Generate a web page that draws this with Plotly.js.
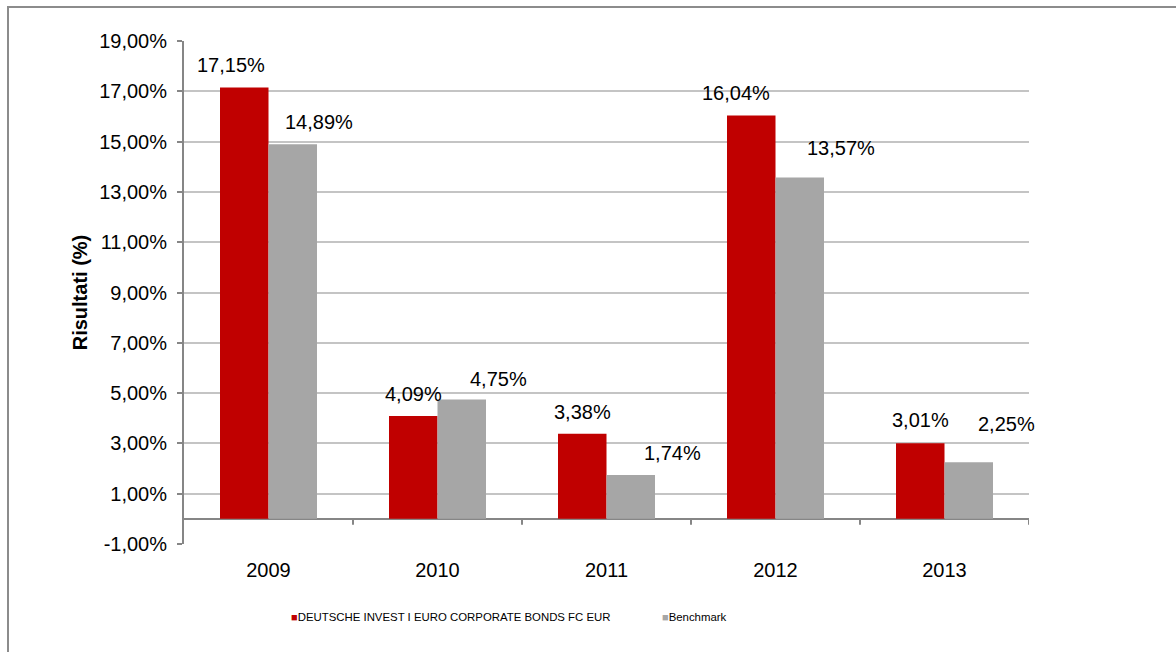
<!DOCTYPE html>
<html>
<head>
<meta charset="utf-8">
<script src="https://cdn.plot.ly/plotly-3.0.1.min.js"></script>
<style>
  html, body { margin: 0; padding: 0; background: #ffffff; }
  #wrap { position: relative; width: 1176px; height: 652px; overflow: hidden; }
  #chart { position: absolute; left: 0; top: 0; width: 1176px; height: 652px; }
  #frame { position: absolute; left: 7px; top: 6px; width: 1300px; height: 800px;
           border-left: 2px solid #8c8c8c; border-top: 2px solid #8c8c8c; pointer-events: none; }
</style>
</head>
<body>
<div id="wrap">
  <div id="chart"></div>
  <div id="frame"></div>
</div>
<script>
// ---- data ----
const years = ['2009', '2010', '2011', '2012', '2013'];
const fundName = 'DEUTSCHE INVEST I EURO CORPORATE BONDS FC EUR';
const fundValues = [17.15, 4.09, 3.38, 16.04, 3.01];
const benchName = 'Benchmark';
const benchValues = [14.89, 4.75, 1.74, 13.57, 2.25];
const yTickVals = [-1, 1, 3, 5, 7, 9, 11, 13, 15, 17, 19];
const yAxisTitle = 'Risultati (%)';

// ---- style ----
const fundColor = '#C00000';
const benchColor = '#A6A6A6';
const axisColor = '#868686';
const gridColor = '#C4C4C4';
const font = 'Liberation Sans, Arial, Helvetica, sans-serif';
// data-label offsets (pixels) relative to category centre / bar top
const fundLabelDx = [-37.5, -24.5, -24, -40, -24];
const fundLabelDy = [23, 22, 21.5, 22, 23];
const benchLabelDx = [50, 61, 66, 65.5, 62];
const benchLabelDy = [22, 20.5, 22, 30, 38];

function pct(v) { return v.toFixed(2).replace('.', ',') + '%'; }

const traces = [
  { type: 'bar', name: fundName, x: years, y: fundValues,
    marker: { color: fundColor }, hoverinfo: 'skip' },
  { type: 'bar', name: benchName, x: years, y: benchValues,
    marker: { color: benchColor }, hoverinfo: 'skip' }
];

const annotations = [];
years.forEach((yr, i) => {
  annotations.push({ x: i, y: fundValues[i], xref: 'x', yref: 'y', text: pct(fundValues[i]),
    showarrow: false, xanchor: 'center', yanchor: 'middle',
    xshift: fundLabelDx[i], yshift: fundLabelDy[i],
    font: { family: font, size: 20, color: '#000000' } });
  annotations.push({ x: i, y: benchValues[i], xref: 'x', yref: 'y', text: pct(benchValues[i]),
    showarrow: false, xanchor: 'center', yanchor: 'middle',
    xshift: benchLabelDx[i], yshift: benchLabelDy[i],
    font: { family: font, size: 20, color: '#000000' } });
});

// custom legend
const legendFont = { family: font, size: 11.4, color: '#000000' };
annotations.push({ xref: 'paper', yref: 'paper', x: (289 - 184) / 845, y: (544 - 617) / 503,
  xanchor: 'left', yanchor: 'middle', showarrow: false,
  text: '<span style="color:' + fundColor + ';font-size:11px">■</span>' + fundName, font: legendFont });
annotations.push({ xref: 'paper', yref: 'paper', x: (660 - 184) / 845, y: (544 - 617) / 503,
  xanchor: 'left', yanchor: 'middle', showarrow: false,
  text: '<span style="color:' + benchColor + ';font-size:11px">■</span>' + benchName, font: legendFont });

// tick marks on the zero line between categories
const shapes = [];
for (let k = 0; k < years.length; k++) {
  shapes.push({ type: 'line', xref: 'x', yref: 'y', x0: k + 0.5, x1: k + 0.5,
    ysizemode: 'pixel', yanchor: 0, y0: 0, y1: -6,
    line: { color: axisColor, width: 2 } });
}

const layout = {
  width: 1176, height: 652,
  margin: { l: 184, r: 147, t: 41, b: 108, pad: 0 },
  paper_bgcolor: '#ffffff', plot_bgcolor: '#ffffff',
  showlegend: false,
  barmode: 'group', bargap: 0.426, bargroupgap: 0,
  font: { family: font, size: 20, color: '#000000' },
  xaxis: {
    type: 'category', categoryorder: 'array', categoryarray: years,
    range: [-0.5, years.length - 0.5],
    showline: false, showgrid: false, zeroline: false,
    ticks: '', ticklabelstandoff: 12,
    tickfont: { family: font, size: 20, color: '#000000' }
  },
  yaxis: {
    range: [-1, 19], tickvals: yTickVals, ticktext: yTickVals.map(v => v.toFixed(2).replace('.', ',') + '%'),
    showline: true, linecolor: axisColor, linewidth: 2,
    ticks: 'outside', ticklen: 5, tickwidth: 2, tickcolor: axisColor,
    ticklabelstandoff: 6,
    showgrid: true, gridcolor: gridColor, gridwidth: 2,
    zeroline: true, zerolinecolor: axisColor, zerolinewidth: 2,
    tickfont: { family: font, size: 20, color: '#000000' },
    title: { text: yAxisTitle, standoff: 6, font: { family: font, size: 20, color: '#000000', weight: 'bold' } }
  },
  annotations: annotations,
  shapes: shapes
};

Plotly.newPlot('chart', traces, layout, { displayModeBar: false, staticPlot: true });
</script>
</body>
</html>
